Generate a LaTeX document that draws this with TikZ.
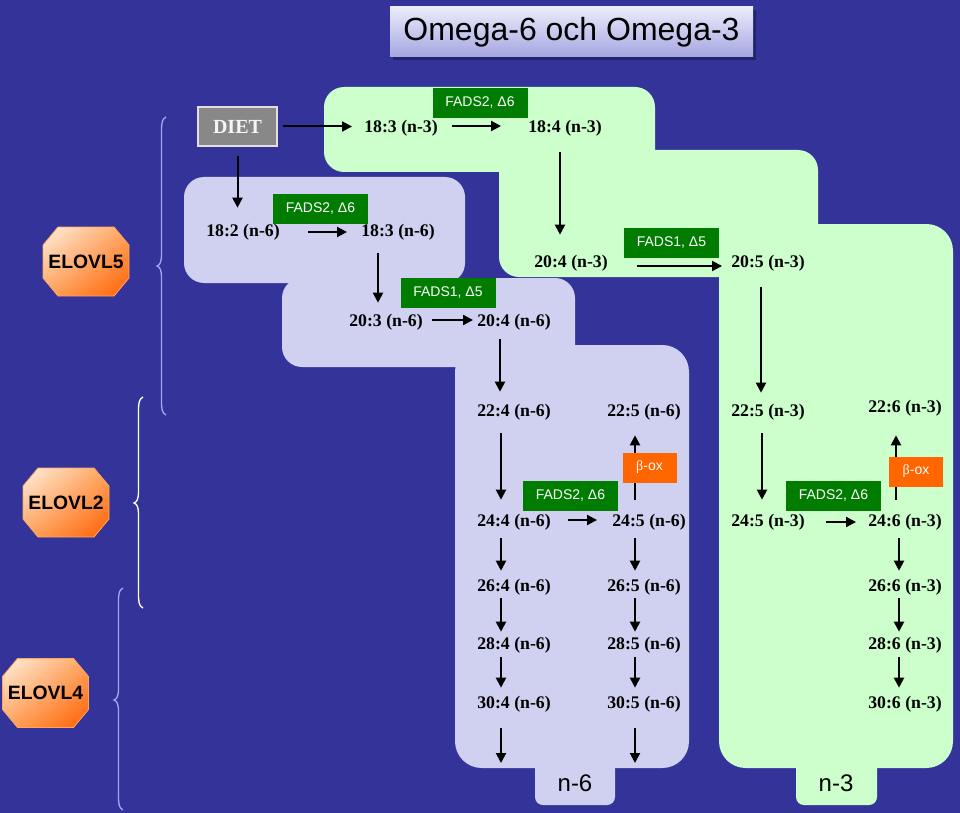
\documentclass[tikz,border=0pt]{standalone}
\usepackage{fontspec}
\setmainfont{Liberation Serif}
\newfontfamily\arialf{Liberation Sans}
\usetikzlibrary{arrows.meta,shadings}
\definecolor{bgblue}{RGB}{51,51,153}
\definecolor{greenreg}{RGB}{204,255,204}
\definecolor{lavreg}{RGB}{208,208,240}
\definecolor{fadsgreen}{RGB}{0,125,0}
\definecolor{boxorange}{RGB}{255,102,0}
\definecolor{bracelav}{RGB}{165,165,240}
\definecolor{octA}{RGB}{255,240,225}
\definecolor{octB}{RGB}{255,165,95}
\definecolor{octC}{RGB}{255,95,0}
\definecolor{titleA}{RGB}{236,236,252}
\definecolor{titleB}{RGB}{165,165,225}
\definecolor{dietgray}{RGB}{136,136,136}
\begin{document}
\begin{tikzpicture}[x=0.75pt,y=-0.75pt,
  fa/.style={font=\fontsize{13.3}{15}\selectfont\bfseries, inner sep=0pt},
  enz/.style={fill=fadsgreen, text=white, font=\arialf\fontsize{10.5}{12}\selectfont, minimum width=71.25pt, minimum height=22.5pt, inner sep=0pt},
  oxbox/.style={fill=boxorange, text=white, font=\arialf\fontsize{10.5}{12}\selectfont, minimum width=40.5pt, minimum height=22.5pt, inner sep=0pt},
  arr/.style={-{Triangle[length=7.5pt,width=7.5pt]}, line width=1.5pt, black},
  brc/.style={line width=1pt, bracelav},
  elv/.style={font=\arialf\bfseries\fontsize{14.5}{17}\selectfont, inner sep=0pt},
  octo/.style={upper left=octA, upper right=octB, lower left=octB, lower right=octC, draw=octB, line width=0.6pt},
  regG/.style={fill=greenreg, rounded corners=15pt},
  regL/.style={fill=lavreg, rounded corners=15pt},
  tabr/.style={rounded corners=6pt},
  lbl/.style={font=\arialf\fontsize{18}{20}\selectfont, inner sep=0pt}
]
\useasboundingbox (0,0) rectangle (960,813);
\fill[bgblue] (0,0) rectangle (960,813);

% title
\fill[black, opacity=0.3] (393,10) rectangle (756,60);
\node[top color=titleA, bottom color=titleB, minimum width=272.25pt, minimum height=37.5pt, inner sep=0pt, font=\arialf\fontsize{24}{28}\selectfont] (title) at (571.5,32) {Omega-6 och Omega-3};

% green regions (n-3)
\fill[regG] (324,87) rectangle (655,172);
\fill[regG] (499,150) rectangle (818,277);
\fill[regG, rounded corners=20pt] (719,224) rectangle (953,768);
\fill[greenreg, tabr] (796,750) rectangle (877,805);

% lavender regions (n-6)
\fill[regL] (184,177) rectangle (465,283);
\fill[regL] (282,278) rectangle (575,367);
\fill[regL, rounded corners=20pt] (455,345) rectangle (689,768);
\fill[lavreg, tabr] (535,750) rectangle (615,805);

% braces
\draw[brc] (166,117) .. controls (162,119) and (161.5,123) .. (161.5,131) -- (161.5,254) .. controls (161.5,262) and (160,265) .. (157,266) .. controls (160,267) and (161.5,270) .. (161.5,278) -- (161.5,401) .. controls (161.5,409) and (162,413) .. (166,415);
\draw[brc, white] (143,397) .. controls (139,399) and (138.5,403) .. (138.5,411) -- (138.5,491) .. controls (138.5,499) and (137,502) .. (134,503) .. controls (137,504) and (138.5,507) .. (138.5,515) -- (138.5,594) .. controls (138.5,602) and (139,606) .. (143,608);
\draw[brc] (123,588) .. controls (119,590) and (118.5,594) .. (118.5,602) -- (118.5,688) .. controls (118.5,696) and (117,699) .. (114,700) .. controls (117,701) and (118.5,704) .. (118.5,712) -- (118.5,796) .. controls (118.5,804) and (119,808) .. (123,810);

% ELOVL octagons
\shade[octo, shift={(86,261.5)}]
  (-28,-34.5) -- (28,-34.5) -- (43,-16.5) -- (43,16.5) -- (28,34.5) -- (-28,34.5) -- (-43,16.5) -- (-43,-16.5) -- cycle;
\node[elv] (e5) at (86,261.5) {ELOVL5};
\shade[octo, shift={(66,502.5)}]
  (-28,-34.5) -- (28,-34.5) -- (43,-16.5) -- (43,16.5) -- (28,34.5) -- (-28,34.5) -- (-43,16.5) -- (-43,-16.5) -- cycle;
\node[elv] (e2) at (66,502.5) {ELOVL2};
\shade[octo, shift={(45.5,693)}]
  (-28,-34.5) -- (28,-34.5) -- (43,-16.5) -- (43,16.5) -- (28,34.5) -- (-28,34.5) -- (-43,16.5) -- (-43,-16.5) -- cycle;
\node[elv] (e4) at (45.5,693) {ELOVL4};

% DIET
\node[draw=black!12, line width=0.8pt, fill=dietgray, text=black!4, font=\fontsize{15}{17}\selectfont\bfseries, minimum width=59.25pt, minimum height=29.25pt, inner sep=0pt] (diet) at (237.5,126.5) {DIET};

% fatty acids n-3
\node[fa] (a183) at (401,128) {18:3 (n-3)};
\node[fa] (a184) at (565,128) {18:4 (n-3)};
\node[fa] (a204) at (571,263) {20:4 (n-3)};
\node[fa] (a205) at (768,263) {20:5 (n-3)};
\node[fa] (b225) at (768,412) {22:5 (n-3)};
\node[fa] (b226) at (905,408) {22:6 (n-3)};
\node[fa] (b245) at (768,522) {24:5 (n-3)};
\node[fa] (b246) at (905,522) {24:6 (n-3)};
\node[fa] (b266) at (905,587) {26:6 (n-3)};
\node[fa] (b286) at (905,645) {28:6 (n-3)};
\node[fa] (b306) at (905,704) {30:6 (n-3)};

% fatty acids n-6
\node[fa] (c182) at (243,232) {18:2 (n-6)};
\node[fa] (c183) at (398,232) {18:3 (n-6)};
\node[fa] (c203) at (386,322) {20:3 (n-6)};
\node[fa] (c204) at (514,322) {20:4 (n-6)};
\node[fa] (c224) at (514,412) {22:4 (n-6)};
\node[fa] (c225) at (644,412) {22:5 (n-6)};
\node[fa] (c244) at (514,522) {24:4 (n-6)};
\node[fa] (c245) at (649,522) {24:5 (n-6)};
\node[fa] (c264) at (514,587) {26:4 (n-6)};
\node[fa] (c265) at (644,587) {26:5 (n-6)};
\node[fa] (c284) at (514,645) {28:4 (n-6)};
\node[fa] (c285) at (644,645) {28:5 (n-6)};
\node[fa] (c304) at (514,704) {30:4 (n-6)};
\node[fa] (c305) at (644,704) {30:5 (n-6)};

% columns and free ends
\coordinate (k560) at (560,0);
\coordinate (k761) at (761,0);
\coordinate (k762) at (762,0);
\coordinate (k896) at (896,0);
\coordinate (k899) at (899,0);
\coordinate (k378) at (378,0);
\coordinate (k500) at (500,0);
\coordinate (k501) at (501,0);
\coordinate (k635) at (635,0);
\coordinate (endL) at (501,763);
\coordinate (endR) at (635,763);

% arrows n-3
\draw[arr, shorten <=3.75pt, shorten >=9pt] (diet.east) -- (diet.east -| a183.west);
\draw[arr, shorten <=10.5pt, shorten >=20.25pt] ([yshift=1.5pt]a183.east) -- ([yshift=1.5pt]a184.west);
\draw[arr, shorten <=12pt, shorten >=15pt] (a184.south -| k560) -- (a204.north -| k560);
\draw[arr, shorten <=21.75pt, shorten >=6.75pt] ([yshift=-2.25pt]a204.east) -- ([yshift=-2.25pt]a205.west);
\draw[arr, shorten <=12pt, shorten >=8.25pt] (a205.south -| k761) -- (b225.north -| k761);
\draw[arr, shorten <=9.75pt, shorten >=10.5pt] (b225.south -| k762) -- (b245.north -| k762);
\draw[arr, shorten <=15.75pt, shorten >=9pt] (b245.east) -- (b246.west);
\draw[arr, shorten <=10.5pt, shorten >=14.25pt] (b246.north -| k896) -- (b226.south -| k896);
\draw[arr, shorten <=6pt, shorten >=6pt] (b246.south -| k899) -- (b266.north -| k899);
\draw[arr, shorten <=2.25pt, shorten >=3.75pt] (b266.south -| k899) -- (b286.north -| k899);
\draw[arr, shorten <=3pt, shorten >=6pt] (b286.south -| k899) -- (b306.north -| k899);

% arrows n-6
\draw[arr, shorten <=6.75pt, shorten >=12pt] (diet.south) -- (diet.south |- c182.north);
\draw[arr, shorten <=21pt, shorten >=10.5pt] (c182.east) -- (c183.west);
\draw[arr, shorten <=9.75pt, shorten >=8.25pt] (c183.south -| k378) -- (c203.north -| k378);
\draw[arr, shorten <=6.75pt, shorten >=3pt] ([yshift=1.5pt]c203.east) -- ([yshift=1.5pt]c204.west);
\draw[arr, shorten <=6.75pt, shorten >=9pt] (c204.south -| k500) -- (c224.north -| k500);
\draw[arr, shorten <=9.75pt, shorten >=10.5pt] (c224.south -| k501) -- (c244.north -| k501);
\draw[arr, shorten <=12.75pt, shorten >=11.25pt] ([yshift=1.5pt]c244.east) -- ([yshift=1.5pt]c245.west);
\draw[arr, shorten <=10.5pt, shorten >=11.25pt] (c245.north -| k635) -- (c225.south -| k635);
\draw[arr, shorten <=6pt, shorten >=6pt] (c244.south -| k501) -- (c264.north -| k501);
\draw[arr, shorten <=2.25pt, shorten >=3.75pt] (c264.south -| k501) -- (c284.north -| k501);
\draw[arr, shorten <=3pt, shorten >=6pt] (c284.south -| k501) -- (c304.north -| k501);
\draw[arr, shorten <=6pt, shorten >=6pt] (c245.south -| k635) -- (c265.north -| k635);
\draw[arr, shorten <=2.25pt, shorten >=3.75pt] (c265.south -| k635) -- (c285.north -| k635);
\draw[arr, shorten <=3pt, shorten >=6pt] (c285.south -| k635) -- (c305.north -| k635);
\draw[arr, shorten <=12pt] (c304.south -| k501) -- (endL);
\draw[arr, shorten <=12pt] (c305.south -| k635) -- (endR);

% enzyme boxes
\node[enz] (f1) at (480,103) {FADS2, Δ6};
\node[enz] (f2) at (320.5,209) {FADS2, Δ6};
\node[enz] (f3) at (448,293) {FADS1, Δ5};
\node[enz] (f4) at (671.5,242.5) {FADS1, Δ5};
\node[enz] (f5) at (570.5,496) {FADS2, Δ6};
\node[enz] (f6) at (833.5,496) {FADS2, Δ6};
\node[oxbox] (ox1) at (649.5,467.5) {{\rmfamily β}-ox};
\node[oxbox] (ox2) at (916,471.5) {{\rmfamily β}-ox};

% labels
\node[lbl] (l6) at (575,783) {n-6};
\node[lbl] (l3) at (836,783) {n-3};
\end{tikzpicture}
\end{document}
